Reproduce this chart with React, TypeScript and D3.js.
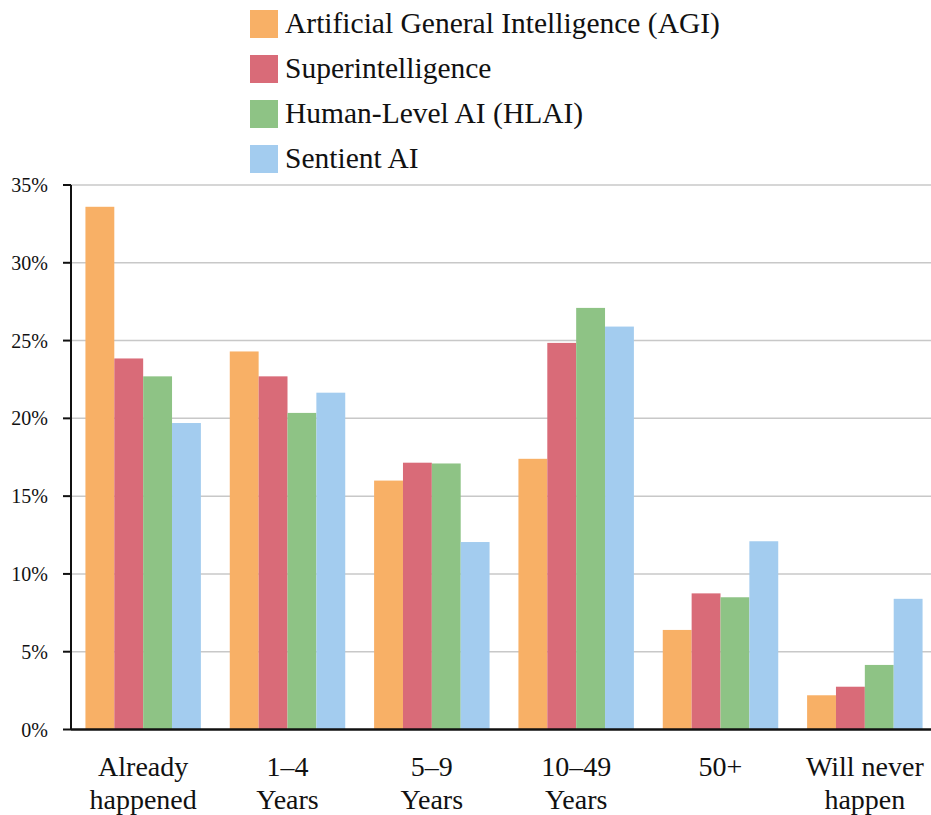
import React from 'react';
import * as d3 from 'd3';

const categories = ['Already|happened', '1–4|Years', '5–9|Years', '10–49|Years', '50+', 'Will never|happen'];
const seriesNames = ['Artificial General Intelligence (AGI)', 'Superintelligence', 'Human-Level AI (HLAI)', 'Sentient AI'];
const seriesColors = ['#f8b066', '#d96b78', '#8ec385', '#a3ccef'];
const agiValues = [33.6, 24.3, 16.0, 17.4, 6.4, 2.2];
const superValues = [23.85, 22.7, 17.15, 24.85, 8.75, 2.75];
const hlaiValues = [22.7, 20.35, 17.1, 27.1, 8.5, 4.15];
const sentientValues = [19.7, 21.65, 12.05, 25.9, 12.1, 8.4];
const yTicks = [0, 5, 10, 15, 20, 25, 30, 35];

const allSeries = [agiValues, superValues, hlaiValues, sentientValues];

const W = 931;
const H = 815;
const FONT = 'Liberation Serif';

const left = 71;
const top = 185;
const bottom = 729.5;

const App: React.FC = () => {
  const x0 = d3.scaleBand<number>()
    .domain(d3.range(categories.length))
    .range([left, left + 866])
    .paddingInner(0.2)
    .paddingOuter(0.1);

  const x1 = d3.scaleBand<number>()
    .domain(d3.range(allSeries.length))
    .range([0, x0.bandwidth()]);

  const y = d3.scaleLinear().domain([0, 35]).range([bottom, top]);

  return (
    <svg
      width={W}
      height={H}
      style={{ position: 'absolute', left: 0, top: 0, background: '#fff' }}
    >
      <style>{`text { font-family: 'Liberation Serif', 'Times New Roman', serif !important; }`}</style>

      {/* gridlines */}
      {yTicks.filter(t => t > 0).map(t => (
        <line key={`g${t}`} x1={left} x2={W} y1={y(t)} y2={y(t)} stroke="#c8c8c8" strokeWidth={1.5} />
      ))}

      {/* bars */}
      {categories.map((c, ci) => (
        <g key={c} transform={`translate(${x0(ci)},0)`}>
          {allSeries.map((vals, si) => (
            <rect
              key={si}
              x={x1(si)}
              y={y(vals[ci])}
              width={x1.bandwidth()}
              height={bottom - y(vals[ci])}
              fill={seriesColors[si]}
            />
          ))}
        </g>
      ))}

      {/* y axis */}
      <line x1={left} x2={left} y1={top} y2={bottom} stroke="#111" strokeWidth={2} />
      {yTicks.map(t => (
        <g key={`t${t}`}>
          <line x1={left - 8} x2={left} y1={y(t)} y2={y(t)} stroke="#111" strokeWidth={2} />
          <text x={48} y={y(t) + 7} textAnchor="end" fontFamily={FONT} fontSize={20} fill="#111">
            {`${t}%`}
          </text>
        </g>
      ))}

      {/* x axis */}
      <line x1={left} x2={W} y1={bottom} y2={bottom} stroke="#111" strokeWidth={2.5} />
      {categories.map((c, ci) => {
        const cx = x0(ci)! + x0.bandwidth() / 2;
        return c.split('|').map((ln, li) => (
          <text
            key={`${c}${li}`}
            x={cx}
            y={776 + li * 33}
            textAnchor="middle"
            fontFamily={FONT}
            fontSize={28}
            fill="#111"
          >
            {ln}
          </text>
        ));
      })}

      {/* legend */}
      {seriesNames.map((name, i) => (
        <g key={name}>
          <rect x={250} y={10 + i * 45} width={28} height={28} fill={seriesColors[i]} />
          <text x={285} y={33 + i * 45} fontFamily={FONT} fontSize={29.5} fill="#111">
            {name}
          </text>
        </g>
      ))}
    </svg>
  );
};

export default App;
